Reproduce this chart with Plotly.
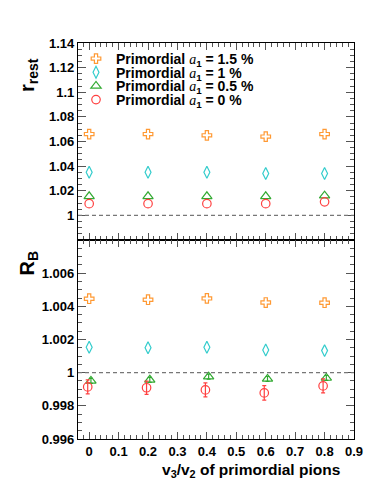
import plotly.graph_objects as go
from plotly.subplots import make_subplots

# ---------------- data ----------------
v3_over_v2 = [0.0, 0.2, 0.4, 0.6, 0.8]
labels = ["1.5 %", "1 %", "0.5 %", "0 %"]

r_rest_a15 = [1.066, 1.066, 1.065, 1.064, 1.066]
r_rest_a10 = [1.035, 1.035, 1.035, 1.034, 1.034]
r_rest_a05 = [1.0155, 1.0155, 1.0155, 1.0155, 1.016]
r_rest_a00 = [1.0095, 1.0095, 1.0095, 1.0095, 1.011]

RB_a15 = [1.00446, 1.00440, 1.00448, 1.00423, 1.00422]
RB_a10 = [1.00153, 1.00150, 1.00153, 1.00137, 1.00133]
RB_a05 = [0.99950, 0.99957, 0.99976, 0.99962, 0.99968]
RB_a00 = [0.99914, 0.99909, 0.99896, 0.99878, 0.99920]
RB_a00_err = [0.00042, 0.00040, 0.00042, 0.00044, 0.00042]
RB_a05_err = [0.00015, 0.00015, 0.00015, 0.00015, 0.00015]

# ---------------- style ----------------
colors = ["#ff9933", "#33cccc", "#33aa33", "#ff4040"]
symbols = ["cross-open", "diamond-tall-open", "triangle-up-open", "circle-open"]
sizes = [8, 8.5, 9, 8.5]
shift_bottom = [0.0, 0.0, 0.006, -0.005]
FONT = "Liberation Sans, Arial, sans-serif"

fig = make_subplots(rows=2, cols=1, shared_xaxes=True, vertical_spacing=0,
                    row_heights=[0.4975, 0.5025])

top_series = [r_rest_a15, r_rest_a10, r_rest_a05, r_rest_a00]
bot_series = [RB_a15, RB_a10, RB_a05, RB_a00]
bot_err = [None, None, RB_a05_err, RB_a00_err]
legend_names = ["legend", "legend2", "legend3", "legend4"]

A1 = ("<span style=\"font-family:'Liberation Serif', serif;font-weight:normal\"><i>a</i></span>"
      "<sub>1</sub>")

for i in range(4):
    fig.add_trace(go.Scatter(
        x=v3_over_v2, y=top_series[i], mode="markers",
        name="Primordial " + A1 + " = " + labels[i],
        legend=legend_names[i],
        marker=dict(symbol=symbols[i], size=sizes[i], color=colors[i],
                    line=dict(width=1.2, color=colors[i])),
    ), row=1, col=1)
    ey = None
    if bot_err[i] is not None:
        ey = dict(type="data", array=bot_err[i], color=colors[i], thickness=1.2, width=2)
    fig.add_trace(go.Scatter(
        x=[v + shift_bottom[i] for v in v3_over_v2], y=bot_series[i], mode="markers",
        showlegend=False, error_y=ey,
        marker=dict(symbol=symbols[i], size=sizes[i], color=colors[i],
                    line=dict(width=1.2, color=colors[i])),
    ), row=2, col=1)

# page body has an 8px margin, so the figure is drawn offset by 8px
OFF = 8
W, H = 374 - OFF, 483 - OFF
ML, MR, MT, MB = 78 - OFF, 20, 43 - OFF, 44
PW, PH = W - ML - MR, H - MT - MB

def px_x(p):
    return (p - OFF - ML) / PW

def px_y(p):
    return (H - MB - (p - OFF)) / PH

axis_common = dict(showline=True, linecolor="black", linewidth=1.2, mirror="allticks",
                   ticks="inside", tickcolor="#555", showgrid=False, zeroline=False,
                   tickfont=dict(family=FONT, size=13, color="black", weight="bold"))

fig.update_xaxes(range=[-0.038, 0.9], dtick=0.1, tick0=0, ticklen=7,
                 minor=dict(ticks="inside", dtick=0.02, ticklen=4, tickcolor="#555", showgrid=False),
                 **axis_common)
fig.update_xaxes(showticklabels=False, row=1, col=1)
fig.update_xaxes(showticklabels=True, row=2, col=1)

fig.update_yaxes(range=[0.98, 1.14], tickvals=[1, 1.02, 1.04, 1.06, 1.08, 1.1, 1.12, 1.14],
                 ticktext=["1", "1.02", "1.04", "1.06", "1.08", "1.1", "1.12", "1.14"],
                 ticklen=8,
                 minor=dict(ticks="inside", dtick=0.005, tick0=0.98, ticklen=4, tickcolor="#555", showgrid=False),
                 row=1, col=1, **axis_common)
fig.update_yaxes(range=[0.996, 1.008], tickvals=[0.996, 0.998, 1, 1.002, 1.004, 1.006],
                 ticktext=["0.996", "0.998", "1", "1.002", "1.004", "1.006"],
                 ticklen=8,
                 minor=dict(ticks="inside", dtick=0.0005, tick0=0.996, ticklen=4, tickcolor="#555", showgrid=False),
                 row=2, col=1, **axis_common)

# dashed reference lines at 1
for yref in ["y", "y2"]:
    fig.add_shape(type="line", xref="x domain", yref=yref, x0=0, x1=1, y0=1, y1=1,
                  line=dict(color="#777", width=1.2, dash="4px,3px"))

# legends (one per entry for tight spacing)
row_centers = [59, 72.7, 86.3, 100]
legend_layout = {}
for i, ln in enumerate(legend_names):
    legend_layout[ln] = dict(x=px_x(76), y=px_y(row_centers[i]), xanchor="left", yanchor="middle",
                             bgcolor="rgba(0,0,0,0)", borderwidth=0,
                             font=dict(family=FONT, size=14, color="black", weight="bold"))

annotations = [
    dict(text="<b>r<sub>rest</sub></b>", x=px_x(28), y=px_y(56), xref="paper", yref="paper",
         xanchor="center", yanchor="top", textangle=-90, showarrow=False,
         font=dict(family=FONT, size=20, color="black")),
    dict(text="<b>R<sub>B</sub></b>", x=px_x(28), y=px_y(249), xref="paper", yref="paper",
         xanchor="center", yanchor="top", textangle=-90, showarrow=False,
         font=dict(family=FONT, size=20, color="black")),
    dict(text="<b>v<sub>3</sub>/v<sub>2</sub> of primordial pions</b>", x=px_x(251), y=px_y(470),
         xref="paper", yref="paper", xanchor="center", yanchor="middle", showarrow=False,
         font=dict(family=FONT, size=15.5, color="black")),
]

fig.update_layout(width=W, height=H, margin=dict(l=ML, r=MR, t=MT, b=MB),
                  paper_bgcolor="white", plot_bgcolor="white",
                  annotations=annotations, **legend_layout)

fig.write_html("out.html")
